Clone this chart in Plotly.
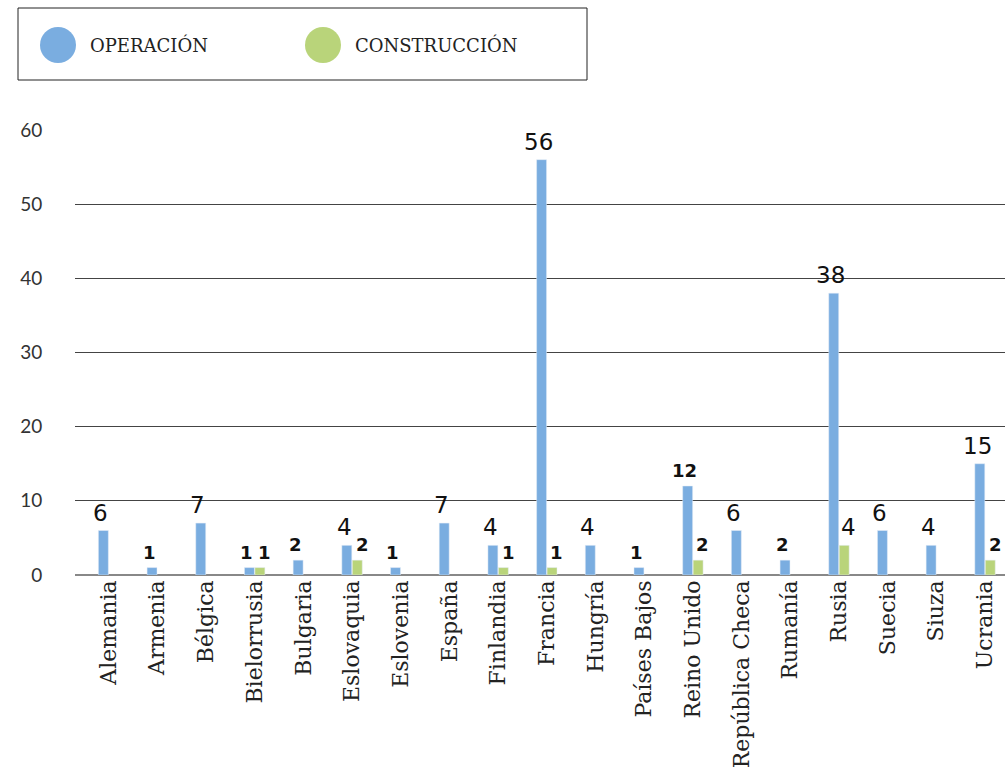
import plotly.graph_objects as go

paises = ["Alemania", "Armenia", "Bélgica", "Bielorrusia", "Bulgaria", "Eslovaquia",
          "Eslovenia", "España", "Finlandia", "Francia", "Hungría", "Países Bajos",
          "Reino Unido", "República Checa", "Rumanía", "Rusia", "Suecia", "Siuza", "Ucrania"]
operacion = [6, 1, 7, 1, 2, 4, 1, 7, 4, 56, 4, 1, 12, 6, 2, 38, 6, 4, 15]
construccion = [None, None, None, 1, None, 2, None, None, 1, 1, None, None, 2, None, None, 4, None, None, 2]
y_ticks = [0, 10, 20, 30, 40, 50, 60]

AZUL = "#7aade0"
VERDE = "#b9d47a"

W, H = 1005, 774
ML, MR, MT, MB = 75, 0, 130, 199
PW, PH = W - ML - MR, H - MT - MB


def px_x(x):
    return (x - ML) / PW


def px_y(y):
    return (H - MB - y) / PH


fig = go.Figure()
fig.add_trace(go.Bar(x=paises, y=operacion, name="OPERACIÓN",
                     marker_color=AZUL, showlegend=False))
fig.add_trace(go.Bar(x=paises, y=construccion, name="CONSTRUCCIÓN",
                     marker_color=VERDE, showlegend=False))

# value labels above each bar, nudged slightly outward from the pair centre
annotations = []
for serie, dx in ((operacion, -8), (construccion, 10)):
    for pais, v in zip(paises, serie):
        if v is None:
            continue
        small = v in (1, 2, 12)
        annotations.append(dict(
            x=pais, y=v, xref="x", yref="y", text=f"<b>{v}</b>" if small else str(v),
            showarrow=False, xanchor="center", yanchor="bottom",
            xshift=dx, yshift=3,
            font=dict(family="DejaVu Sans, Verdana, sans-serif",
                      size=18 if small else 23, color="#111"),
        ))

# legend box drawn in paper coordinates
shapes = [
    dict(type="rect", xref="paper", yref="paper",
         x0=px_x(18), x1=px_x(587), y0=px_y(80), y1=px_y(8),
         line=dict(color="#222", width=1), fillcolor="white"),
    dict(type="circle", xref="paper", yref="paper",
         x0=px_x(40), x1=px_x(76), y0=px_y(63), y1=px_y(27),
         line=dict(width=0), fillcolor=AZUL),
    dict(type="circle", xref="paper", yref="paper",
         x0=px_x(305), x1=px_x(341), y0=px_y(63), y1=px_y(27),
         line=dict(width=0), fillcolor=VERDE),
]
legend_font = dict(family="DejaVu Serif, serif", size=18, color="#222")
annotations += [
    dict(text="OPERACIÓN", xref="paper", yref="paper", x=px_x(88), y=px_y(45),
         xanchor="left", yanchor="middle", showarrow=False, font=legend_font),
    dict(text="CONSTRUCCIÓN", xref="paper", yref="paper", x=px_x(353), y=px_y(45),
         xanchor="left", yanchor="middle", showarrow=False, font=legend_font),
]

fig.update_layout(
    width=W, height=H,
    margin=dict(l=ML, r=MR, t=MT, b=MB, pad=0),
    paper_bgcolor="white", plot_bgcolor="white",
    barmode="group", bargap=0.57, bargroupgap=0.05,
    shapes=shapes, annotations=annotations,
    showlegend=False,
)
fig.update_xaxes(
    range=[-0.69, 18.41], tickangle=-90, showgrid=False, ticks="",
    tickfont=dict(family="DejaVu Serif, serif", size=22, color="#222"),
    showline=False,
)
fig.update_yaxes(
    range=[0, 60], tickvals=y_ticks, showgrid=True, gridcolor="#444", gridwidth=1,
    zeroline=True, zerolinecolor="#888", zerolinewidth=2,
    tickfont=dict(family="Lato, sans-serif", size=19, color="#333"),
    ticks="outside", ticklen=28, tickcolor="rgba(0,0,0,0)",
)

fig.write_html("out.html")
